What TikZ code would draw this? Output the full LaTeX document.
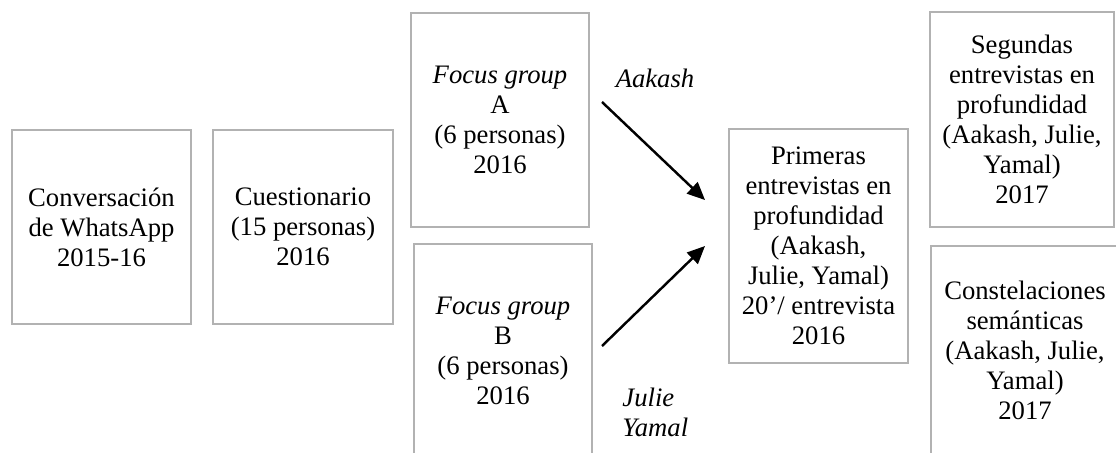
\documentclass[tikz,border=0pt]{standalone}
\usepackage{fontspec}
\setmainfont{Liberation Serif}
\usepackage{tikz}
\usetikzlibrary{arrows.meta}

\begin{document}
\begin{tikzpicture}[x=0.45pt,y=-0.45pt,
  font=\fontsize{12}{13.5}\selectfont,
  caja/.style 2 args={draw=gray!60, line width=0.7pt, align=center, inner sep=2pt,
    minimum width=#1*0.45pt, minimum height=#2*0.45pt},
  flecha/.style={-{Triangle[length=8pt,width=7pt]}, line width=1.1pt}]
\clip (0,0) rectangle (1116,452);
\node[caja={179}{194}] (conv) at (101.5,227) {Conversación\\de WhatsApp\\2015-16};
\node[caja={180}{194}] (cuest) at (303,227) {Cuestionario\\(15 personas)\\2016};
\node[caja={178}{214}] (fgA) at (500,120) {\textit{Focus group}\\A\\(6 personas)\\2016};
\node[caja={178}{214}] (fgB) at (503,351) {\textit{Focus group}\\B\\(6 personas)\\2016};
\node[caja={179}{234}] (prim) at (818.5,246) {Primeras\\entrevistas en\\profundidad\\(Aakash,\\Julie, Yamal)\\20’/ entrevista\\2016};
\node[caja={184}{215}] (seg) at (1022,119.5) {Segundas\\entrevistas en\\profundidad\\(Aakash, Julie,\\Yamal)\\2017};
\node[caja={188}{209}] (const) at (1025,350.5) {Constelaciones\\semánticas\\(Aakash, Julie,\\Yamal)\\2017};
\coordinate (aIni) at (602,102);
\coordinate (aFin) at (705,200);
\coordinate (bIni) at (602,346);
\coordinate (bFin) at (705,246);
\draw[flecha] (aIni) -- (aFin);
\draw[flecha] (bIni) -- (bFin);
\node (lblA) at (655,78) {\textit{Aakash}};
\node[anchor=west, align=left, inner sep=0pt] (lblB) at (622,412) {\textit{Julie}\\\textit{Yamal}};
\end{tikzpicture}
\end{document}
